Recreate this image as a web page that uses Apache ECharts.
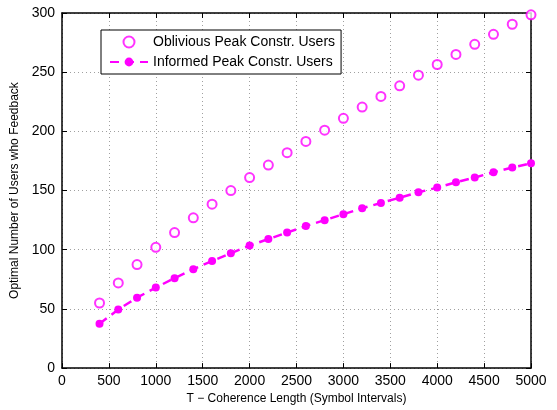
<!DOCTYPE html>
<html>
<head>
<meta charset="utf-8">
<script src="https://cdn.jsdelivr.net/npm/echarts@6/dist/echarts.min.js"></script>
<style>
  html, body { margin: 0; padding: 0; background: #fff; }
  #chart { width: 557px; height: 410px; }
</style>
</head>
<body>
<div id="chart"></div>
<script>
// Coherence length T (symbol intervals)
const coherenceLength = [400, 600, 800, 1000, 1200, 1400, 1600, 1800, 2000, 2200, 2400, 2600,
  2800, 3000, 3200, 3400, 3600, 3800, 4000, 4200, 4400, 4600, 4800, 5000];

// Optimal number of feedback users, oblivious peak constraint
const obliviousUsers = [55, 72, 87.5, 102, 114.5, 127, 138.5, 150, 161, 171.5, 182, 191.5,
  201, 211, 220.5, 229.5, 238.5, 247.5, 256.5, 265, 273.5, 282, 290.5, 298.5];

// Optimal number of feedback users, informed peak constraint
const informedUsers = [37.5, 49.5, 59.5, 68, 76, 83.5, 90.5, 97, 103.5, 109, 114.5, 120,
  125, 130, 135, 139.5, 144, 148.5, 152.5, 157, 161, 165.5, 169.5, 173];

const seriesNames = ['Oblivious Peak Constr. Users', 'Informed Peak Constr. Users'];
const xTitle = 'T \u2212 Coherence Length (Symbol Intervals)';
const yTitle = 'Optimal Number of Users who Feedback';

const FONT = 'Liberation Sans, Arial, Helvetica, sans-serif';
const MAGENTA = '#ff00ff';

const pair = (xs, ys) => xs.map((x, i) => [x, ys[i]]);

const gridLine = { show: true, lineStyle: { color: '#a0a0a0', width: 1, type: [1, 3] } };
const tickIn = { show: true, inside: true, length: 5, lineStyle: { color: '#000', width: 1 } };
const axisBlack = { show: true, onZero: false, lineStyle: { color: '#000', width: 1.5 } };
const plainNumber = v => String(v);

const chart = echarts.init(document.getElementById('chart'), null, { renderer: 'canvas' });

chart.setOption({
  animation: false,
  backgroundColor: '#fff',
  grid: { left: 62, right: 26, top: 13, bottom: 41, containLabel: false },
  xAxis: [
    {
      type: 'value', min: 0, max: 5000, interval: 500, position: 'bottom',
      name: xTitle, nameLocation: 'middle', nameGap: 23,
      nameTextStyle: { fontFamily: FONT, fontSize: 12, color: '#000' },
      axisLine: axisBlack, axisTick: tickIn,
      axisLabel: { fontFamily: FONT, fontSize: 14, color: '#000', margin: 6, formatter: plainNumber },
      splitLine: gridLine
    },
    {
      type: 'value', min: 0, max: 5000, interval: 500, position: 'top',
      axisLine: axisBlack, axisTick: tickIn,
      axisLabel: { show: false }, splitLine: { show: false }
    }
  ],
  yAxis: [
    {
      type: 'value', min: 0, max: 300, interval: 50, position: 'left',
      name: yTitle, nameLocation: 'middle', nameGap: 29,
      nameTextStyle: { fontFamily: FONT, fontSize: 12, color: '#000' },
      axisLine: axisBlack, axisTick: tickIn,
      axisLabel: { fontFamily: FONT, fontSize: 14, color: '#000', margin: 7, formatter: plainNumber },
      splitLine: gridLine
    },
    {
      type: 'value', min: 0, max: 300, interval: 50, position: 'right',
      axisLine: axisBlack, axisTick: tickIn,
      axisLabel: { show: false }, splitLine: { show: false }
    }
  ],
  legend: {
    orient: 'vertical', left: 101, top: 30,
    backgroundColor: '#fff', borderColor: '#000', borderWidth: 1,
    padding: [4, 6, 4, 8], itemGap: 4, itemWidth: 38, itemHeight: 11,
    textStyle: { fontFamily: FONT, fontSize: 14, color: '#000', lineHeight: 16, padding: [0, 0, 0, 0] },
    data: seriesNames
  },
  series: [
    {
      name: seriesNames[0], type: 'scatter',
      data: pair(coherenceLength, obliviousUsers),
      symbol: 'emptyCircle', symbolSize: 9,
      itemStyle: { color: MAGENTA, borderColor: MAGENTA, borderWidth: 2.5 }
    },
    {
      name: seriesNames[1], type: 'line',
      data: pair(coherenceLength, informedUsers),
      symbol: 'circle', symbolSize: 8, showSymbol: true,
      lineStyle: { color: MAGENTA, width: 2.5, type: [9, 6] },
      itemStyle: { color: MAGENTA }
    }
  ]
});
</script>
</body>
</html>
